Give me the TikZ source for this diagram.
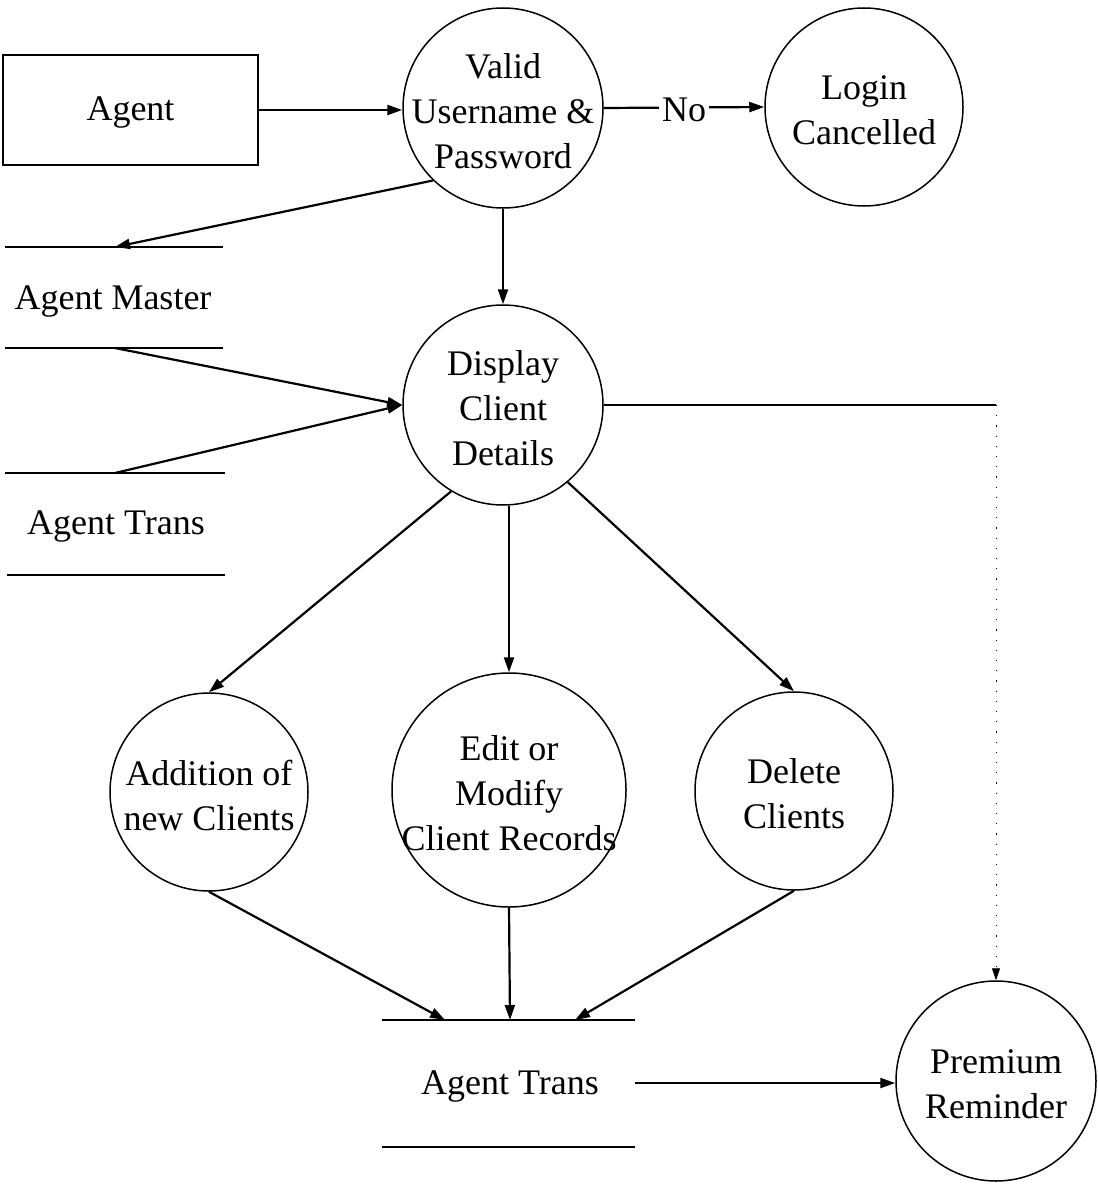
\documentclass[tikz,border=0pt]{standalone}
\usepackage{fontspec}
\setmainfont{Liberation Serif}
\usetikzlibrary{arrows.meta}
\begin{document}
\begin{tikzpicture}[x=1pt,y=-1pt,
  proc/.style={circle,draw,line width=1.5pt,inner sep=0pt},
  txt/.style={align=center,font=\fontsize{36}{45}\selectfont,inner sep=0pt},
  ptxt/.style={txt,yshift=-3pt},
  flow/.style={line width=2.2pt,-{Triangle[length=15pt,width=10pt]}},
  storeline/.style={line width=1.6pt},
  hint/.style={line width=0.9pt,dash pattern=on 1.2pt off 9pt,-{Triangle[length=12pt,width=8pt]}},
]
\useasboundingbox (0,0) rectangle (1097,1185);

% external entity
\node[draw,line width=1.1pt,minimum width=255pt,minimum height=110pt,txt] (agent) at (130.5,110) {};
\node[ptxt] at (agent) {Agent};

% processes
\node[proc,minimum size=200pt,label={[ptxt]center:Valid\\Username \&\\Password}] (valid) at (503,108) {};
\node[proc,minimum size=198pt,label={[ptxt]center:Login\\Cancelled}] (login) at (864,107) {};
\node[proc,minimum size=200pt,label={[ptxt]center:Display\\Client\\Details}] (display) at (503,405) {};
\node[proc,minimum size=198pt,label={[ptxt]center:Addition of\\new Clients}] (addition) at (209,792) {};
\node[proc,minimum size=234pt,label={[ptxt]center:Edit or\\Modify\\Client Records}] (edit) at (509,790) {};
\node[proc,minimum size=198pt,label={[ptxt]center:Delete\\Clients}] (delete) at (794,791) {};
\node[proc,minimum size=200pt,label={[ptxt]center:Premium\\Reminder}] (premium) at (996,1081) {};

% data store: Agent Master
\draw[storeline] (5,247) -- (223,247);
\draw[storeline] (5,348) -- (223,348);
\node[ptxt] (amaster) at (113,298) {Agent Master};
\coordinate (amtop) at (115,247);
\coordinate (ambot) at (115,348);

% data store: Agent Trans (left)
\draw[storeline] (5,473) -- (225,473);
\draw[storeline] (7,575) -- (225,575);
\node[ptxt] (atrans) at (116,523) {Agent Trans};
\coordinate (attop) at (115,473);

% data store: Agent Trans (bottom)
\draw[storeline] (382,1020) -- (635,1020);
\draw[storeline] (382,1147) -- (635,1147);
\node[ptxt] (btrans) at (510,1083) {Agent Trans};
\coordinate (bt1) at (445,1020);
\coordinate (bt2) at (510,1020);
\coordinate (bt3) at (575,1020);
\coordinate (bout) at (635,1083);

% flows
\draw[flow] (agent.east) -- (agent.east -| valid.west);
\draw[flow] (valid.east) -- node[fill=white,txt,inner xsep=3pt,yshift=-2pt]{No} (login.west);
\draw[flow] (valid.226) -- (amtop);
\draw[flow] (valid.south) -- (display.north);
\draw[flow] (ambot) -- (display.180);
\draw[flow] (attop) -- (display.180);
\draw[flow] (display.239) -- (addition.north);
\draw[flow] (display.south -| edit.north) -- (edit.north);
\draw[flow] (display.310) -- (delete.north);
\draw[flow] (addition.south) -- (bt1);
\draw[flow] (edit.south) -- (bt2);
\draw[flow] (delete.south) -- (bt3);
\draw[flow] (bout) -- (bout -| premium.west);

% reminder path
\coordinate (corner) at (premium.north |- display.east);
\draw[line width=2pt] (display.east) -- (corner);
\draw[hint] (corner) -- (premium.north);
\end{tikzpicture}
\end{document}
